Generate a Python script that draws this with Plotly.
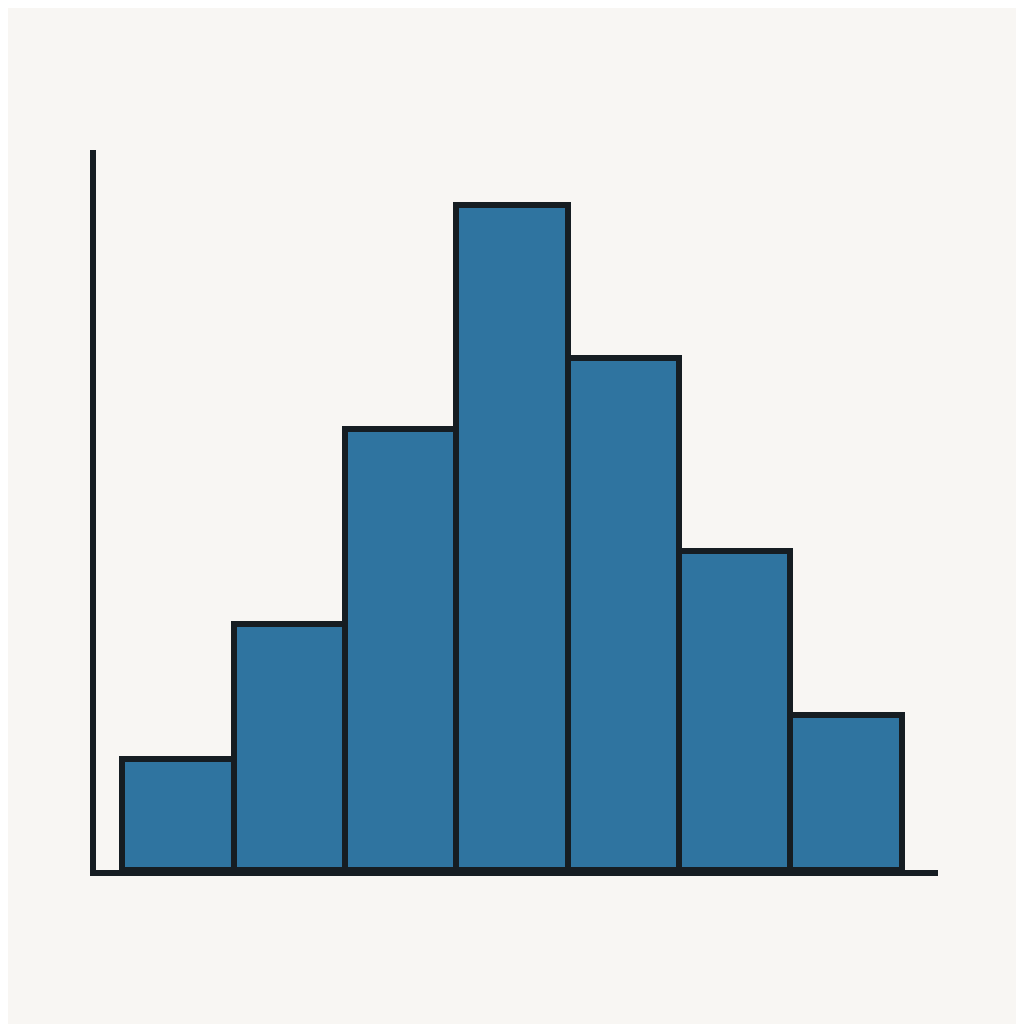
import plotly.graph_objects as go

bins = [0, 1, 2, 3, 4, 5, 6]
counts = [5.0, 11.1, 19.9, 30.0, 23.1, 14.4, 7.0]

fig = go.Figure(go.Bar(
    x=bins, y=counts, width=1,
    marker=dict(color="#2f74a0", line=dict(color="#161d22", width=6)),
))
fig.update_layout(
    width=1024, height=1024,
    paper_bgcolor="#f8f6f3", plot_bgcolor="#f8f6f3",
    margin=dict(l=88, r=94, t=142, b=162),
    bargap=0, showlegend=False,
    xaxis=dict(range=[-0.738, 6.828], showgrid=False, zeroline=False, showticklabels=False,
               ticks="", showline=True, linecolor="#161d22", linewidth=6),
    yaxis=dict(range=[0, 32.5], showgrid=False, zeroline=False, showticklabels=False,
               ticks="", showline=True, linecolor="#161d22", linewidth=6),
)
fig.write_html("out.html")
